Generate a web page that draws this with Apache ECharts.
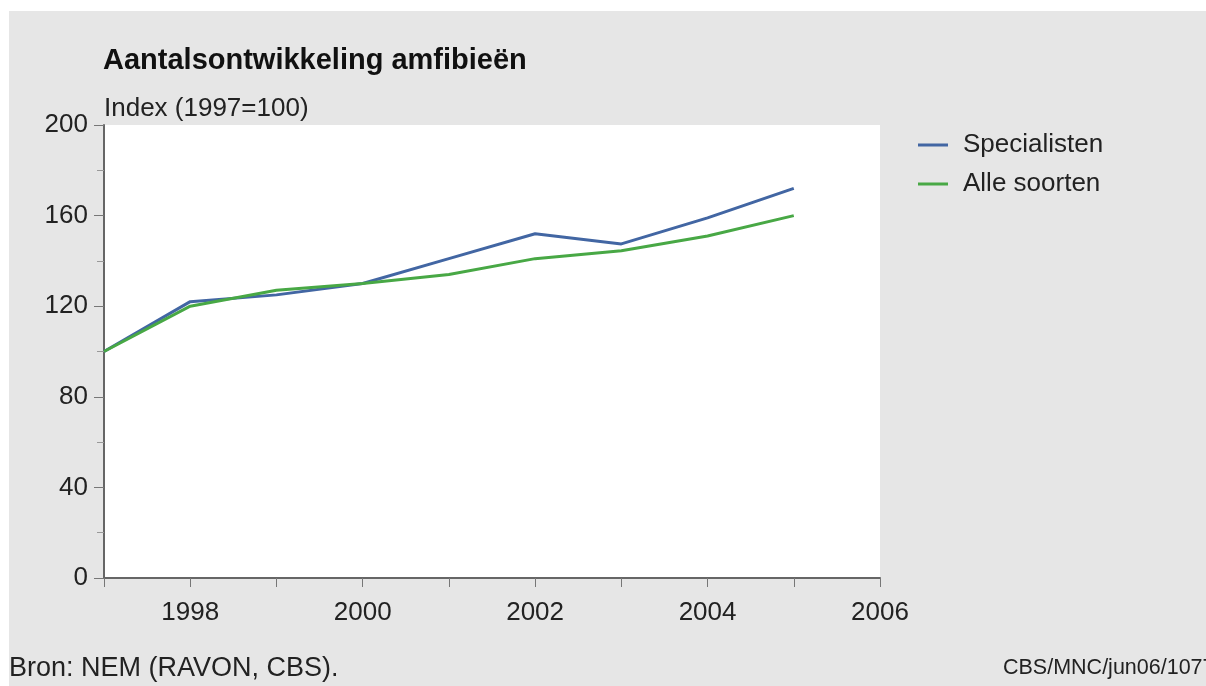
<!DOCTYPE html>
<html>
<head>
<meta charset="utf-8">
<script src="https://cdn.jsdelivr.net/npm/echarts@6/dist/echarts.min.js"></script>
<style>
html,body{margin:0;padding:0;background:#ffffff;}
#chart{width:1206px;height:686px;}
</style>
</head>
<body>
<div id="chart"></div>
<script>
var years = [1997, 1998, 1999, 2000, 2001, 2002, 2003, 2004, 2005];
var specialisten = [100, 122, 125, 130, 141, 152, 147.5, 159, 172];
var alleSoorten = [100, 120, 127, 130, 134, 141, 144.5, 151, 160];
var seriesNames = ['Specialisten', 'Alle soorten'];
var titleText = 'Aantalsontwikkeling amfibieën';
var unitText = 'Index (1997=100)';
var sourceText = 'Bron: NEM (RAVON, CBS).';
var codeText = 'CBS/MNC/jun06/1077';

function pairs(xs, ys) { return xs.map(function (x, i) { return [x, ys[i]]; }); }

var chart = echarts.init(document.getElementById('chart'), null, {renderer: 'canvas'});
var font = 'Liberation Sans, Arial, sans-serif';
chart.setOption({
  animation: false,
  backgroundColor: '#ffffff',
  textStyle: {fontFamily: font},
  graphic: [
    {type: 'rect', z: -10, shape: {x: 9, y: 11, width: 1197, height: 675}, style: {fill: '#e6e6e6'}},
    {type: 'text', left: 103, top: 46, style: {text: titleText, font: 'bold 29px ' + font, fill: '#111'}},
    {type: 'text', left: 104, top: 96, style: {text: unitText, font: '26px ' + font, fill: '#222'}},
    {type: 'text', left: 9, top: 655, style: {text: sourceText, font: '27px ' + font, fill: '#222'}},
    {type: 'text', x: 1003, y: 657, style: {text: codeText, font: '21.5px ' + font, fill: '#222'}}
  ],
  grid: {left: 104, top: 125, width: 776, height: 453, show: true, backgroundColor: '#ffffff', borderWidth: 0},
  legend: {
    orient: 'vertical', left: 913, top: 127, itemWidth: 30, itemHeight: 3, itemGap: 13,
    icon: 'rect',
    textStyle: {fontSize: 26, color: '#222', fontFamily: font, padding: [0, 0, 0, 10]},
    data: seriesNames
  },
  xAxis: {
    type: 'value', min: 1997, max: 2006, interval: 1,
    axisLine: {show: true, lineStyle: {color: '#666', width: 2}},
    axisTick: {show: true, length: 9, lineStyle: {color: '#777'}},
    axisLabel: {fontSize: 26, color: '#222', margin: 22,
      formatter: function (v) { return (v % 2 === 0) ? String(v) : ''; }},
    splitLine: {show: false}
  },
  yAxis: {
    type: 'value', min: 0, max: 200, interval: 40,
    axisLine: {show: true, lineStyle: {color: '#666', width: 2}},
    axisTick: {show: true, length: 10, lineStyle: {color: '#777'}},
    minorTick: {show: true, splitNumber: 2, length: 7, lineStyle: {color: '#999'}},
    axisLabel: {fontSize: 26, color: '#222', margin: 16},
    splitLine: {show: false}
  },
  series: [
    {name: seriesNames[0], type: 'line', data: pairs(years, specialisten), showSymbol: false,
      lineStyle: {width: 3, color: '#4266a3'}, itemStyle: {color: '#4266a3'}, z: 2},
    {name: seriesNames[1], type: 'line', data: pairs(years, alleSoorten), showSymbol: false,
      lineStyle: {width: 3, color: '#48a845'}, itemStyle: {color: '#48a845'}, z: 3}
  ]
});
</script>
</body>
</html>
